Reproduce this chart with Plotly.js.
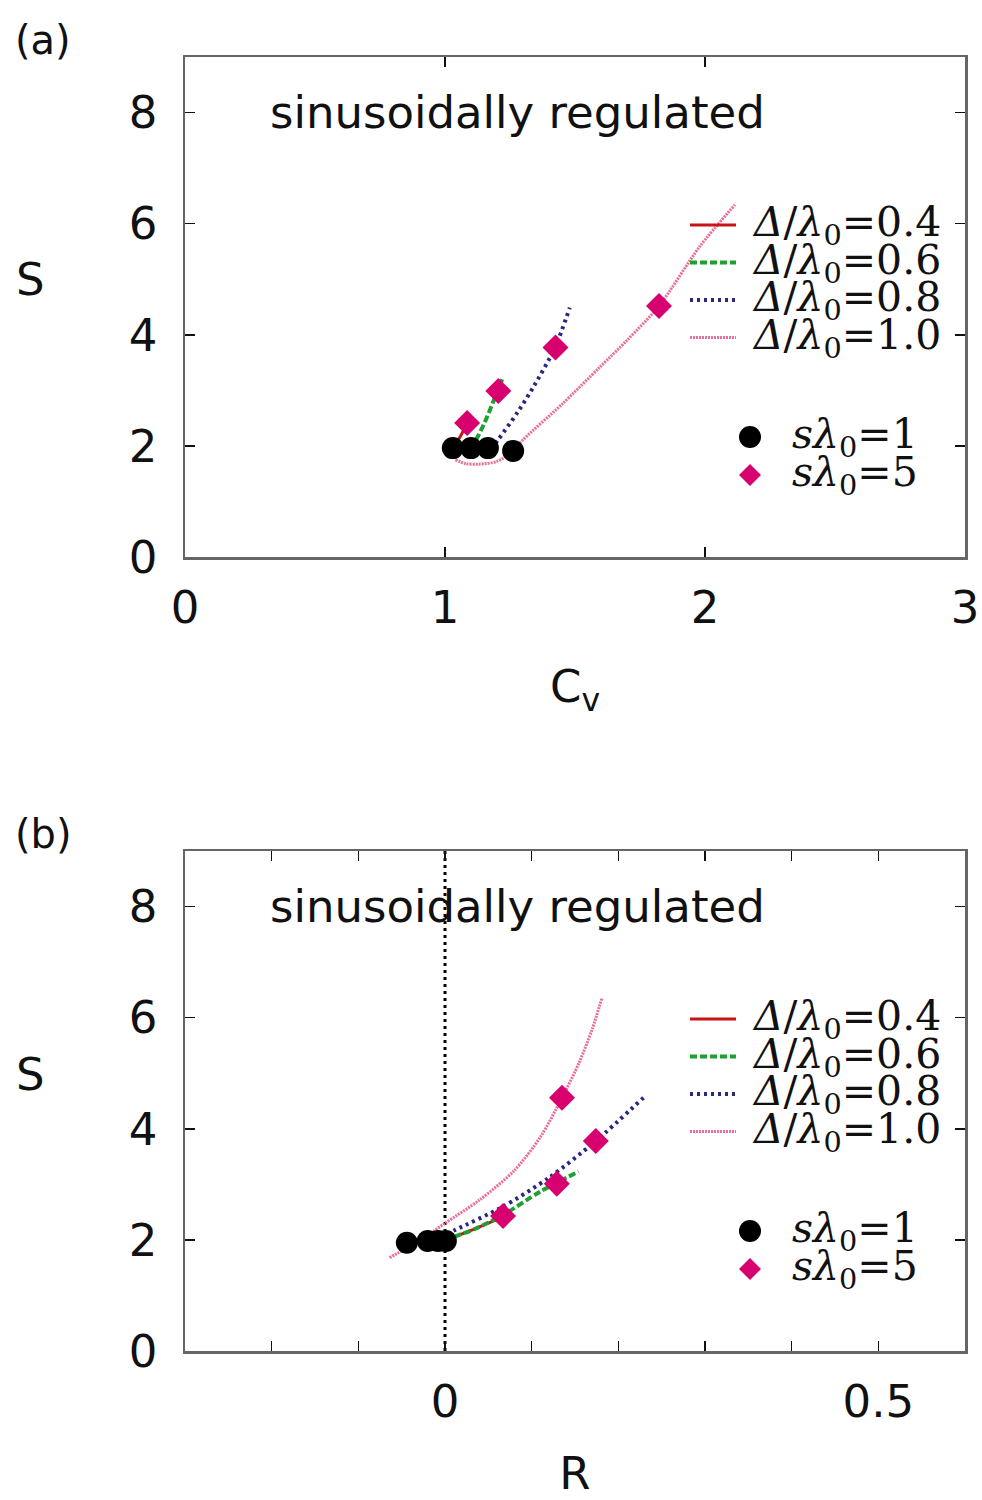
<!DOCTYPE html>
<html>
<head>
<meta charset="utf-8">
<script src="https://cdn.plot.ly/plotly-3.0.1.min.js"></script>
<style>html,body{margin:0;padding:0;background:#fff;}</style>
</head>
<body>
<div id="chart" style="width:982px;height:1500px;"></div>
<script>
// ---------- data: panel (a)  S vs Cv ----------
const cvD04 = [1.03, 1.06, 1.085];
const sD04a = [1.96, 2.18, 2.41];
const cvD06 = [1.10, 1.13, 1.16, 1.19, 1.22];
const sD06a = [1.95, 2.20, 2.50, 2.85, 3.20];
const cvD08 = [1.16, 1.204, 1.277, 1.34, 1.423, 1.48];
const sD08a = [1.85, 2.11, 2.59, 3.06, 3.77, 4.49];
const cvD10 = [1.04, 1.08, 1.13, 1.20, 1.262, 1.30, 1.45, 1.596, 1.70, 1.823, 1.98, 2.115];
const sD10a = [1.75, 1.68, 1.67, 1.72, 1.91, 2.11, 2.75, 3.42, 3.90, 4.52, 5.59, 6.34];
const cvS1 = [1.03, 1.10, 1.165, 1.262];
const sS1a = [1.96, 1.96, 1.96, 1.91];
const cvS5 = [1.085, 1.205, 1.425, 1.823];
const sS5a = [2.41, 2.99, 3.77, 4.52];

// ---------- data: panel (b)  S vs R ----------
const rD04 = [0.002, 0.03, 0.065];
const sD04b = [2.00, 2.17, 2.40];
const rD06 = [0.0, 0.035, 0.067, 0.11, 0.154];
const sD06b = [2.00, 2.20, 2.45, 2.87, 3.23];
const rD08 = [-0.005, 0.012, 0.067, 0.12, 0.174, 0.229];
const sD08b = [2.05, 2.18, 2.60, 3.12, 3.78, 4.56];
const rD10 = [-0.064, -0.03, 0.0, 0.04, 0.08, 0.11, 0.135, 0.155, 0.17, 0.181];
const sD10b = [1.68, 1.98, 2.30, 2.72, 3.25, 3.85, 4.56, 5.20, 5.80, 6.35];
const rS1 = [0.001, -0.008, -0.020, -0.044];
const sS1b = [1.98, 1.98, 1.98, 1.95];
const rS5 = [0.067, 0.129, 0.174, 0.135];
const sS5b = [2.43, 3.01, 3.78, 4.56];
const zeroLineX = [0, 0];
const zeroLineY = [0, 9];

// ---------- labels ----------
const deltaValues = ['0.4', '0.6', '0.8', '1.0'];
const sValues = ['1', '5'];
const xTicksA = [0, 1, 2, 3];
const yTicks = [0, 2, 4, 6, 8];
const xTicksB = [-0.2, -0.1, 0, 0.1, 0.2, 0.3, 0.4, 0.5];
const xTickTextB = ['', '', '0', '', '', '', '', '0.5'];
const panelNote = 'sinusoidally regulated';

// ---------- styles ----------
const lineStyles = [
  {color: 'rgb(200,20,20)', width: 3, dash: 'solid'},
  {color: 'rgb(30,160,50)', width: 4, dash: '7px,3px'},
  {color: 'rgb(40,40,130)', width: 4, dash: '3px,4px'},
  {color: 'rgb(235,110,155)', width: 3, dash: '2px,1px'}
];
const circleColor = '#000';
const diamondColor = 'rgb(215,0,110)';
const sansFont = 'DejaVu Sans, Liberation Sans, Arial, sans-serif';
const serifFont = 'DejaVu Serif, Liberation Serif, serif';

function lineTrace(x, y, st, xa, ya) {
  return {x: x, y: y, xaxis: xa, yaxis: ya, mode: 'lines', type: 'scatter',
          line: {color: st.color, width: st.width, dash: st.dash, shape: 'spline', smoothing: 0.8},
          showlegend: false, hoverinfo: 'skip'};
}
function markerTrace(x, y, sym, col, size, xa, ya) {
  return {x: x, y: y, xaxis: xa, yaxis: ya, mode: 'markers', type: 'scatter',
          marker: {symbol: sym, color: col, size: size, line: {width: 0}},
          showlegend: false, hoverinfo: 'skip'};
}

const traces = [
  lineTrace(cvD04, sD04a, lineStyles[0], 'x', 'y'),
  lineTrace(cvD06, sD06a, lineStyles[1], 'x', 'y'),
  lineTrace(cvD08, sD08a, lineStyles[2], 'x', 'y'),
  lineTrace(cvD10, sD10a, lineStyles[3], 'x', 'y'),
  markerTrace(cvS1, sS1a, 'circle', circleColor, 22, 'x', 'y'),
  markerTrace(cvS5, sS5a, 'diamond', diamondColor, 20, 'x', 'y'),
  {x: zeroLineX, y: zeroLineY, xaxis: 'x2', yaxis: 'y2', mode: 'lines', type: 'scatter',
   line: {color: '#000', width: 3, dash: '3px,4px'}, showlegend: false, hoverinfo: 'skip'},
  lineTrace(rD04, sD04b, lineStyles[0], 'x2', 'y2'),
  lineTrace(rD06, sD06b, lineStyles[1], 'x2', 'y2'),
  lineTrace(rD08, sD08b, lineStyles[2], 'x2', 'y2'),
  lineTrace(rD10, sD10b, lineStyles[3], 'x2', 'y2'),
  markerTrace(rS1, sS1b, 'circle', circleColor, 22, 'x2', 'y2'),
  markerTrace(rS5, sS5b, 'diamond', diamondColor, 20, 'x2', 'y2')
];

// pixel -> paper helpers (plot area: x 185..965, y 57..1351)
const PX = px => (px - 185) / 780;
const PY = py => (1351 - py) / 1294;

const annotations = [];
const shapes = [];
[0, 794].forEach((off, k) => {
  annotations.push({text: k === 0 ? '(a)' : '(b)', xref: 'paper', yref: 'paper',
    x: PX(43), y: PY(40 + off), xanchor: 'center', yanchor: 'middle', showarrow: false,
    font: {family: sansFont, size: 40, color: '#111'}});
  annotations.push({text: 'S', xref: 'paper', yref: 'paper',
    x: PX(30), y: PY(280 + off), xanchor: 'center', yanchor: 'middle', showarrow: false,
    font: {family: sansFont, size: 45, color: '#111'}});
  annotations.push({text: panelNote, xref: 'paper', yref: 'paper',
    x: PX(517), y: PY(113 + off), xanchor: 'center', yanchor: 'middle', showarrow: false,
    font: {family: sansFont, size: 45, color: '#111'}});
  deltaValues.forEach((v, i) => {
    const py = 225 + 37.5 * i + off;
    annotations.push({text: '<i>Δ</i>/<i>λ</i><sub>0</sub>=' + v, xref: 'paper', yref: 'paper',
      x: PX(750), y: PY(py), xanchor: 'left', yanchor: 'middle', showarrow: false,
      font: {family: serifFont, size: 41, color: '#111'}});
    shapes.push({type: 'line', xref: 'paper', yref: 'paper',
      x0: PX(690), x1: PX(736), y0: PY(py), y1: PY(py),
      line: {color: lineStyles[i].color, width: lineStyles[i].width, dash: lineStyles[i].dash}});
  });
  sValues.forEach((v, i) => {
    const py = 437 + 38 * i + off;
    annotations.push({text: '<i>sλ</i><sub>0</sub>=' + v, xref: 'paper', yref: 'paper',
      x: PX(790), y: PY(py), xanchor: 'left', yanchor: 'middle', showarrow: false,
      font: {family: serifFont, size: 41, color: '#111'}});
  });
  // legend marker samples
  const cy = 437 + off, cx = 750, r = 11;
  shapes.push({type: 'circle', xref: 'paper', yref: 'paper',
    x0: PX(cx - r), x1: PX(cx + r), y0: PY(cy + r), y1: PY(cy - r),
    fillcolor: circleColor, line: {width: 0}});
  const dy = 475 + off, d = 11;
  shapes.push({type: 'path', xref: 'paper', yref: 'paper',
    path: 'M' + PX(cx - d) + ',' + PY(dy) + ' L' + PX(cx) + ',' + PY(dy - d) +
          ' L' + PX(cx + d) + ',' + PY(dy) + ' L' + PX(cx) + ',' + PY(dy + d) + ' Z',
    fillcolor: diamondColor, line: {width: 0}});
});

const axisCommon = {
  ticks: 'inside', ticklen: 10, tickwidth: 1.5, tickcolor: '#111',
  showline: true, linecolor: '#666', linewidth: 2.5, mirror: 'ticks',
  showgrid: false, zeroline: false,
  tickfont: {family: sansFont, size: 45, color: '#111'}
};

const layout = {
  width: 982, height: 1500,
  margin: {l: 185, r: 17, t: 57, b: 149, pad: 0},
  paper_bgcolor: '#fff', plot_bgcolor: '#fff',
  showlegend: false,
  xaxis: Object.assign({}, axisCommon, {anchor: 'y', domain: [0, 1], range: [0, 3],
    tickvals: xTicksA, ticklabelstandoff: 9,
    title: {text: 'C<sub>v</sub>', font: {family: sansFont, size: 45, color: '#111'}, standoff: 38}}),
  yaxis: Object.assign({}, axisCommon, {anchor: 'x', domain: [794 / 1294, 1], range: [0, 9],
    tickvals: yTicks, ticklabelstandoff: 16}),
  xaxis2: Object.assign({}, axisCommon, {anchor: 'y2', domain: [0, 1], range: [-0.3, 0.6],
    tickvals: xTicksB, ticktext: xTickTextB, ticklabelstandoff: 9,
    title: {text: 'R', font: {family: sansFont, size: 45, color: '#111'}, standoff: 50}}),
  yaxis2: Object.assign({}, axisCommon, {anchor: 'x2', domain: [0, 500 / 1294], range: [0, 9],
    tickvals: yTicks, ticklabelstandoff: 16}),
  annotations: annotations,
  shapes: shapes
};

Plotly.newPlot('chart', traces, layout, {displayModeBar: false, staticPlot: true});
</script>
</body>
</html>
